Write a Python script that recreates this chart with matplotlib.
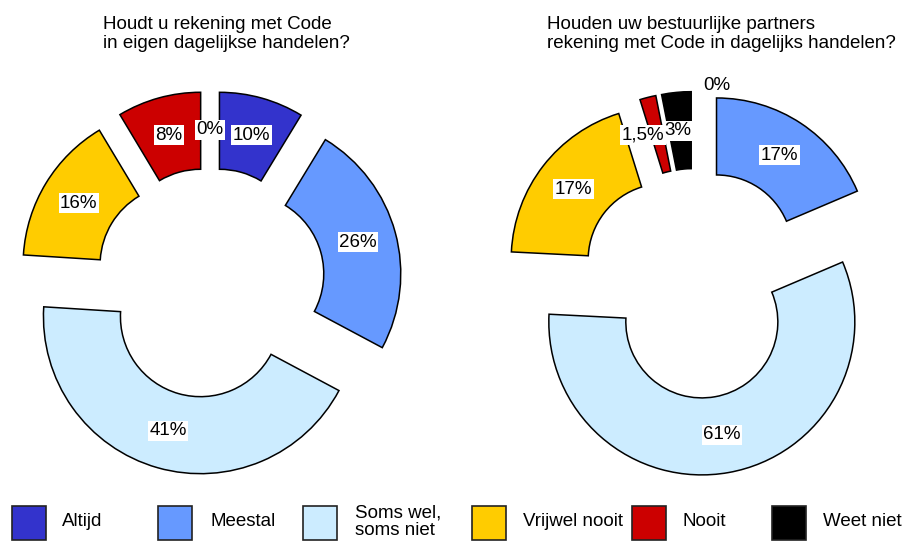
import matplotlib.pyplot as plt
import numpy as np
from matplotlib.patches import Rectangle

plt.rcParams["font.family"] = ["Liberation Sans", "DejaVu Sans"]

categorieen = ["Altijd", "Meestal", "Soms wel,\nsoms niet", "Vrijwel nooit", "Nooit", "Weet niet"]
kleuren = ["#3333CC", "#6699FF", "#CCECFF", "#FFCC00", "#CC0000", "#000000"]

titel_links = "Houdt u rekening met Code\nin eigen dagelijkse handelen?"
segment_links = [8.7, 24.1, 43.2, 15.4, 8.6, 0]
labels_links = ["10%", "26%", "41%", "16%", "8%", "0%"]

titel_rechts = "Houden uw bestuurlijke partners\nrekening met Code in dagelijks handelen?"
segment_rechts = [0, 18.6, 57.2, 19.4, 1.7, 3.1]
labels_rechts = ["0%", "17%", "61%", "17%", "1,5%", "3%"]

B, H = 907, 542
RING = 77


def teken_donut(ax, waarden, labels, centrum, straal, uitstel, verschuivingen, kaders):
    wedges, _ = ax.pie(
        waarden,
        colors=kleuren,
        startangle=90,
        counterclock=False,
        radius=straal,
        center=centrum,
        explode=[uitstel] * len(waarden),
        wedgeprops=dict(width=RING, edgecolor="black", linewidth=1.1),
        frame=True,
    )
    r_label = straal - RING / 2
    for w, v, txt, (dx, dy), kader in zip(wedges, waarden, labels, verschuivingen, kaders):
        if v == 0:
            w.set_visible(False)
        hoek = np.deg2rad((w.theta1 + w.theta2) / 2)
        x = w.center[0] + r_label * np.cos(hoek) + dx
        y = w.center[1] + r_label * np.sin(hoek) + dy
        bbox = dict(boxstyle="square,pad=0.08", fc="white", ec="none") if kader else None
        ax.text(x, y, txt, ha="center", va="center", fontsize=13.5, bbox=bbox, zorder=5)


fig = plt.figure(figsize=(B / 100, H / 100), dpi=100)
ax = fig.add_axes([0, 0, 1, 1])

teken_donut(
    ax, segment_links, labels_links, (210, H - 283), 157, 35,
    [(0, 0)] * 6, [True] * 6,
)
teken_donut(
    ax, segment_rechts, labels_rechts, (695, H - 283.5), 153, 39,
    [(22, 45), (0, 0), (0, 0), (0, 0), (-14, 0), (-2, 0)],
    [False, True, True, True, True, True],
)

ax.set_xlim(0, B)
ax.set_ylim(0, H)
ax.set_aspect("equal")
ax.axis("off")

fig.text(103 / B, 1 - 34 / H, titel_links, ha="left", va="center", fontsize=13.5)
fig.text(547 / B, 1 - 34 / H, titel_rechts, ha="left", va="center", fontsize=13.5)

# legenda onderaan
vak_x = [12, 158, 303, 472, 632, 772]
tekst_x = [62, 210, 355, 523, 683, 823]
for kleur, naam, vx, tx in zip(kleuren, categorieen, vak_x, tekst_x):
    fig.patches.append(Rectangle((vx / B, 2 / H), 34 / B, 34 / H, transform=fig.transFigure,
                                 facecolor=kleur, edgecolor="#222222", linewidth=1.2))
    fig.text(tx / B, 1 - 522 / H, naam, ha="left", va="center", fontsize=13.5,
             linespacing=1.05)

fig.savefig("out.png", dpi=100)
